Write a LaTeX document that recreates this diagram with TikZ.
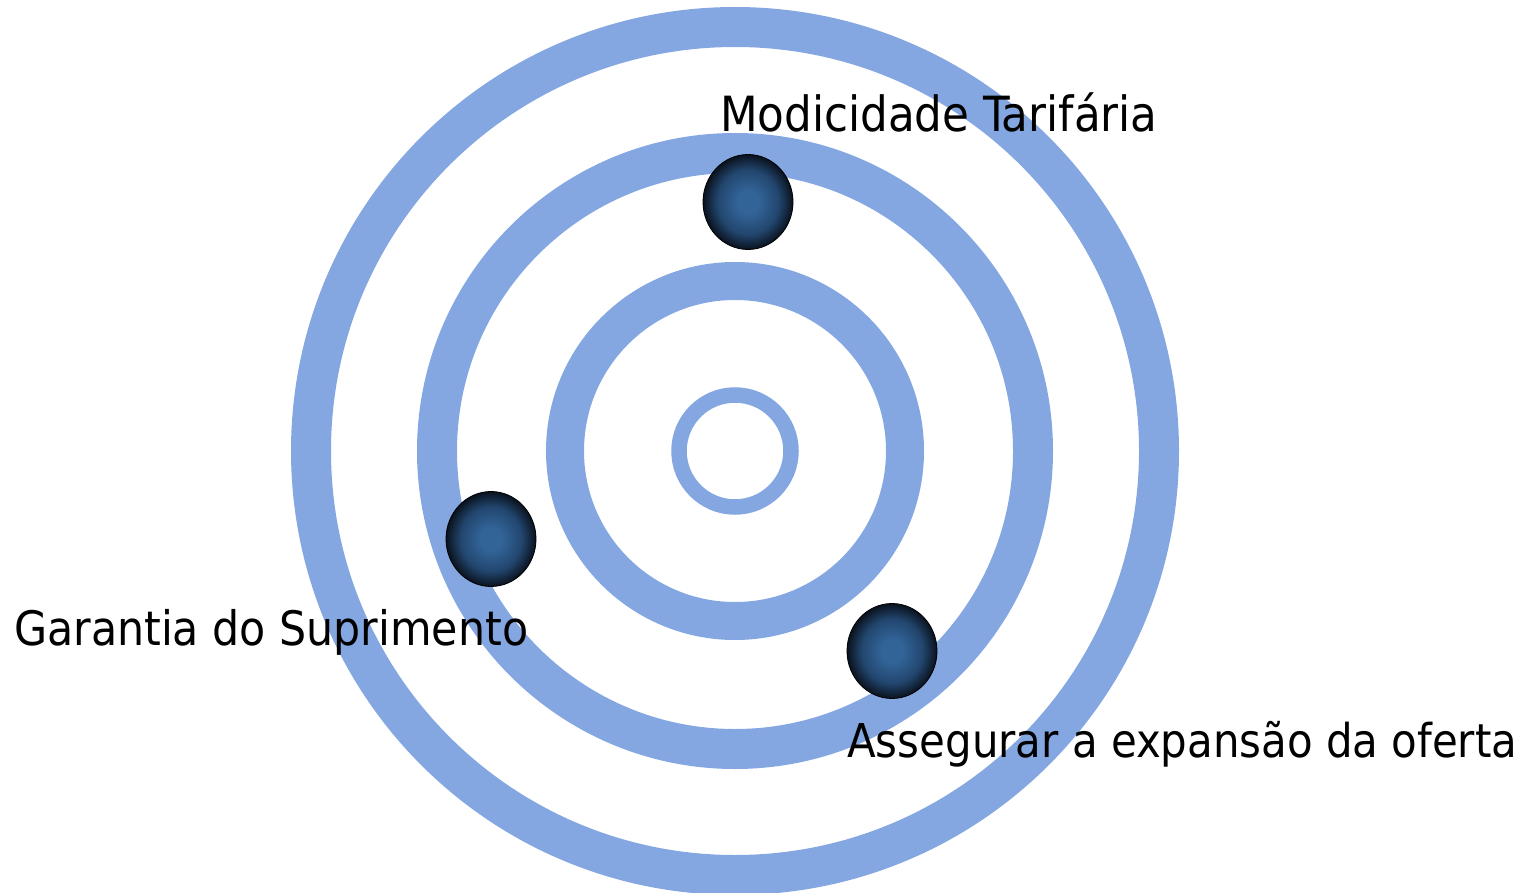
\documentclass[tikz,border=0pt]{standalone}
\usepackage{fontspec}
\setmainfont{DejaVu Sans Condensed}
\usetikzlibrary{shapes.geometric}
\definecolor{ringc}{RGB}{132,167,226}
\definecolor{ballc}{RGB}{50,100,152}
\definecolor{ballmid}{RGB}{34,70,110}
\definecolor{balldark}{RGB}{10,18,30}
\pgfdeclareradialshading{ballshade}{\pgfpointorigin}{color(0bp)=(ballc); color(6bp)=(ballc); color(17bp)=(ballmid); color(25bp)=(balldark); color(50bp)=(balldark)}
\tikzset{
  ring/.style={draw=ringc},
  ball/.style={ellipse, draw=black, line width=0.8pt, shading=ballshade, minimum width=90pt, minimum height=95pt, inner sep=0pt},
  lbl/.style={anchor=base west, inner sep=0pt, text=black}
}
\begin{document}
\begin{tikzpicture}[x=1pt,y=-1pt]
\useasboundingbox (0,0) rectangle (1528,893);
\coordinate (c) at (735,451);
\draw[ring, line width=40pt] (c) circle[radius=424pt];
\draw[ring, line width=40pt] (c) circle[radius=298pt];
\draw[ring, line width=38pt] (c) circle[radius=170pt];
\draw[ring, line width=15.5pt] (c) circle[radius=56pt];
\node[ball] (b1) at (748,202) {};
\node[ball] (b2) at (491,539) {};
\node[ball] (b3) at (892,651) {};
\node[lbl, font=\fontsize{48.5}{52}\selectfont] (t1) at (720,132) {Modicidade Tarifária};
\node[lbl, font=\fontsize{47.5}{52}\selectfont] (t2) at (14,645) {Garantia do Suprimento};
\node[lbl, font=\fontsize{46.6}{52}\selectfont] (t3) at (847,757) {Assegurar a expansão da oferta};
\end{tikzpicture}
\end{document}
